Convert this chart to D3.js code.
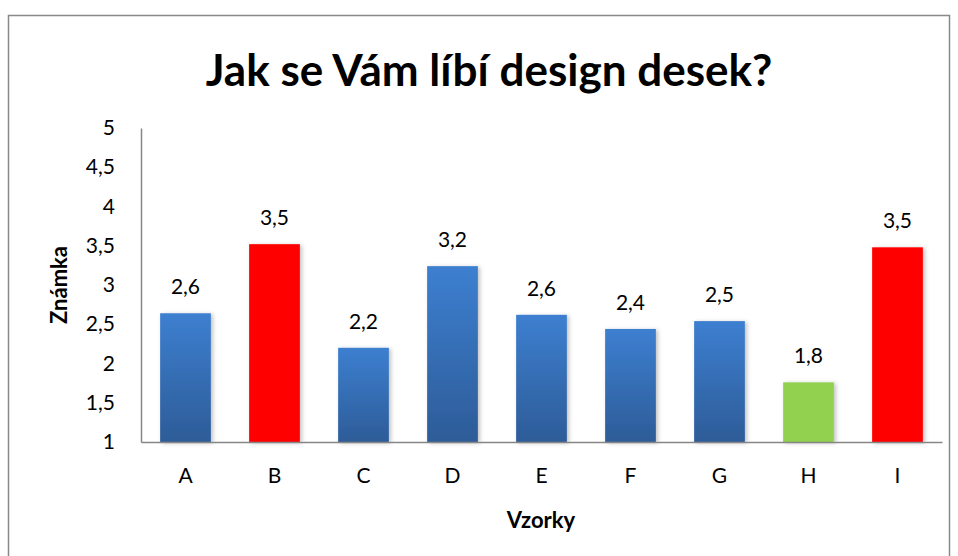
<!DOCTYPE html>
<html><head><meta charset="utf-8">
<script src="https://cdn.jsdelivr.net/npm/d3@7"></script>
<style>body{margin:0;background:#fff}svg{display:block}text{font-family:Lato,"Open Sans",sans-serif}</style>
</head><body>
<svg id="c" width="958" height="556"></svg>
<script>
const categories = ["A","B","C","D","E","F","G","H","I"];
const values = [2.64, 3.52, 2.20, 3.24, 2.62, 2.44, 2.54, 1.76, 3.48];
const labels = ["2,6","3,5","2,2","3,2","2,6","2,4","2,5","1,8","3,5"];
const yTicks = [1,1.5,2,2.5,3,3.5,4,4.5,5];
const fillKind = ["blue","red","blue","blue","blue","blue","blue","green","red"];
const title = "Jak se Vám líbí design desek?";
const xTitle = "Vzorky", yTitle = "Známka";

(function(){
const svg = d3.select("#c");
const defs = svg.append("defs");
const g1 = defs.append("linearGradient").attr("id","blue").attr("x1",0).attr("y1",0).attr("x2",0).attr("y2",1);
g1.append("stop").attr("offset","0%").attr("stop-color","#3d7fd0");
g1.append("stop").attr("offset","100%").attr("stop-color","#2d5c98");
const f = defs.append("filter").attr("id","sh").attr("x","-20%").attr("y","-20%").attr("width","150%").attr("height","140%");
f.append("feDropShadow").attr("dx",2).attr("dy",1).attr("stdDeviation",2).attr("flood-color","#000").attr("flood-opacity",0.25);
const colors = {blue:"url(#blue)", red:"#ff0000", green:"#92d050"};

svg.append("rect").attr("x",8.5).attr("y",15.5).attr("width",941).attr("height",560)
  .attr("fill","#fff").attr("stroke","#898989").attr("stroke-width",1.5);

const pl = 141, pr = 942, pt = 128, pb = 442;
const x = d3.scaleBand().domain(categories).range([pl, pr]).paddingInner(0.43).paddingOuter(0.215);
const y = d3.scaleLinear().domain([1,5]).range([pb, pt]);

svg.append("text").attr("x",489).attr("y",86).attr("text-anchor","middle")
  .attr("font-size",44).attr("font-weight","bold").attr("fill","#000").text(title);

const ya = svg.append("g").attr("transform",`translate(${pl},0)`)
  .call(d3.axisLeft(y).tickValues(yTicks).tickSize(0).tickPadding(26).tickFormat(d => String(d).replace(".",",")));
ya.select(".domain").attr("stroke","#868686").attr("stroke-width",1.5);
ya.selectAll("text").attr("font-size",21).attr("fill","#000").style("font-family","Lato");

svg.append("g").selectAll("rect").data(values).join("rect")
  .attr("x",(d,i)=>x(categories[i])).attr("width",x.bandwidth())
  .attr("y",d=>y(d)).attr("height",d=>pb-y(d))
  .attr("fill",(d,i)=>colors[fillKind[i]]).attr("filter","url(#sh)");

const xa = svg.append("g").attr("transform",`translate(0,${pb})`)
  .call(d3.axisBottom(x).tickSize(0).tickPadding(26));
xa.select(".domain").attr("stroke","#868686").attr("stroke-width",1.5);
xa.selectAll("text").attr("font-size",21).attr("fill","#000").style("font-family","Lato");

svg.append("g").selectAll("text").data(values).join("text")
  .attr("x",(d,i)=>x(categories[i])+x.bandwidth()/2).attr("y",d=>y(d)-19)
  .attr("text-anchor","middle").attr("font-size",21).attr("fill","#000").text((d,i)=>labels[i]);

svg.append("text").attr("x",541).attr("y",528).attr("text-anchor","middle")
  .attr("font-size",22).attr("font-weight","bold").text(xTitle);
svg.append("text").attr("transform","translate(67,285) rotate(-90)").attr("text-anchor","middle")
  .attr("font-size",22).attr("font-weight","bold").text(yTitle);
})();
</script>
</body></html>
